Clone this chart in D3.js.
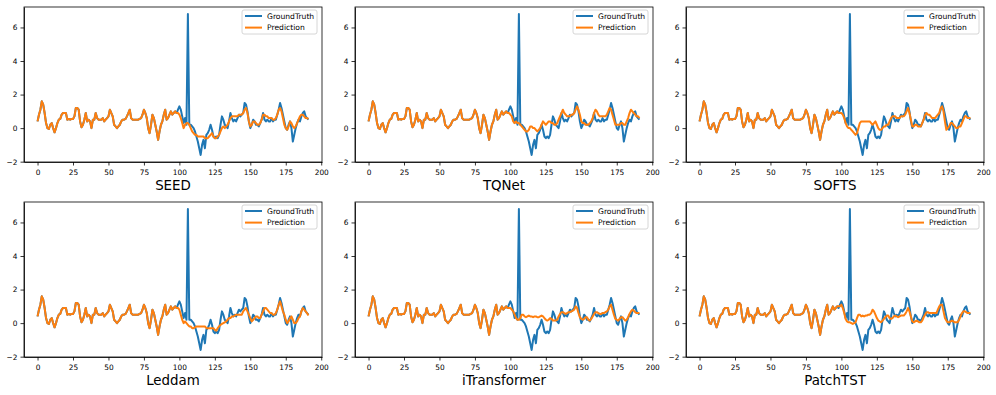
<!DOCTYPE html>
<html lang="en">
<head>
<meta charset="utf-8">
<title>Forecast comparison</title>
<script type="text/javascript" src="https://d3js.org/d3.v7.min.js"></script>
<style>
body { margin: 0; background: #fff; }
svg { font-family: "DejaVu Sans", sans-serif; }
.axis path, .axis line { stroke: #000; stroke-width: 0.8; }
.axis text { font-family: "DejaVu Sans", sans-serif; font-size: 7.4px; fill: #000; }
.title { font-size: 13.4px; text-anchor: middle; }
.legend text { font-size: 7.6px; }
</style>
</head>
<body>
<div id="chart"></div>
<script type="text/javascript">

// input window (prediction == ground truth here), steps 0..95
var inputWindow = [0.4, 0.8, 1.1, 1.6, 1.4, 0.9, 0.3, 0.0, -0.05, 0.2,
    0.3, 0.0, -0.25, 0.0, 0.3, 0.5, 0.55, 0.8, 0.9, 0.9,
    0.9, 0.5, 0.55, 0.5, 0.55, 0.55, 0.7, 1.2, 1.2, 1.1,
    0.4, 0.05, 0.2, 0.5, 0.9, 0.4, 0.5, 0.4, 0.0, 0.5,
    0.5, 0.9, 0.6, 0.5, 0.5, 0.5, 0.6, 0.4, 0.5, 0.6,
    0.7, 1.1, 0.9, 0.7, 0.2, 0.1, 0.0, 0.1, 0.2, 0.4,
    0.5, 0.5, 0.55, 0.7, 0.9, 1.1, 0.6, 0.5, 0.5, 0.5,
    0.5, 0.5, 0.55, 0.6, 0.8, 1.1, 0.9, 0.6, 0.0, -0.3,
    0.2, 0.8, 0.6, 0.2, -0.2, -0.7, -0.2, 0.2, 0.4, 0.8,
    1.1, 0.5, 0.6, 0.8, 1.0, 0.8];

// ground truth over the horizon, steps 96..191
var truthFuture = [0.9, 1.0, 0.9, 1.1, 1.3, 1.1, 0.7, 0.3, 0.6, 0.2,
    6.8, 0.2, 0.2, 0.1, 0.0, -0.2, -0.5, -0.8, -1.2, -1.6,
    -1.0, -0.7, -1.2, -0.4, -0.3, -0.1, 0.2, -0.1, -0.5, -0.6,
    -0.5, -0.6, -0.4, 0.2, 0.7, 0.5, 0.2, 0.1, 0.0, 0.4,
    0.9, 0.6, 0.4, 0.5, 0.4, 0.6, 0.8, 0.7, 0.8, 0.9,
    1.5, 1.4, 1.0, 0.4, 0.0, 0.2, 0.5, 0.4, 0.2, 0.2,
    0.1, 0.3, 0.5, 0.9, 0.5, 0.4, 0.5, 0.4, 0.4, 0.6,
    0.4, 0.5, 0.5, 0.8, 1.1, 1.5, 1.2, 0.8, 0.4, 0.0,
    -0.1, 0.2, 0.4, 0.0, -0.8, -0.4, 0.0, 0.3, 0.5, 0.4,
    0.7, 0.9, 1.0, 0.7, 0.6, 0.5];

var predSEED = [0.9, 1.0, 0.9, 0.9, 0.8, 0.6, 0.3, 0.0, 0.2, 0.3,
    0.3, 0.2, 0.0, -0.2, -0.3, -0.4, -0.4, -0.5, -0.5, -0.5,
    -0.5, -0.5, -0.6, -0.6, -0.6, -0.5, -0.4, -0.3, -0.5, -0.6,
    -0.6, -0.5, -0.4, -0.2, 0.0, 0.1, 0.0, 0.1, 0.2, 0.4,
    0.6, 0.7, 0.7, 0.7, 0.7, 0.7, 0.8, 0.8, 0.8, 0.9,
    1.1, 1.2, 0.9, 0.4, 0.1, 0.2, 0.4, 0.4, 0.3, 0.2,
    0.2, 0.3, 0.5, 0.8, 0.8, 0.7, 0.7, 0.6, 0.6, 0.6,
    0.5, 0.5, 0.6, 0.8, 1.1, 1.2, 1.0, 0.6, 0.2, 0.0,
    -0.1, 0.1, 0.4, 0.3, 0.1, 0.0, 0.1, 0.3, 0.5, 0.7,
    0.8, 0.8, 0.7, 0.6, 0.6, 0.55];

var predTQNet = [0.9, 1.0, 0.9, 0.9, 0.8, 0.7, 0.4, 0.3, 0.4, 0.3,
    0.3, 0.2, 0.1, 0.0, -0.1, -0.2, -0.2, -0.1, 0.1, 0.1,
    0.0, 0.0, -0.1, -0.2, -0.1, 0.0, 0.2, 0.4, 0.3, 0.2,
    0.3, 0.4, 0.4, 0.3, 0.3, 0.2, 0.2, 0.3, 0.5, 0.7,
    0.9, 1.1, 0.9, 0.8, 0.7, 0.7, 0.7, 0.8, 0.8, 0.9,
    1.1, 1.3, 1.1, 0.8, 0.4, 0.3, 0.3, 0.2, 0.2, 0.2,
    0.3, 0.4, 0.6, 0.9, 1.1, 1.0, 0.8, 0.7, 0.7, 0.7,
    0.7, 0.7, 0.8, 1.0, 1.2, 1.1, 0.8, 0.5, 0.2, 0.2,
    0.2, 0.2, 0.3, 0.3, 0.2, 0.2, 0.4, 0.6, 0.9, 1.1,
    1.0, 0.9, 0.8, 0.7, 0.7, 0.6];

var predSOFTS = [0.9, 1.0, 0.9, 0.9, 0.9, 0.8, 0.6, 0.3, 0.1, 0.0,
    0.0, -0.1, -0.2, -0.3, -0.4, -0.3, 0.0, 0.3, 0.4, 0.4,
    0.4, 0.4, 0.4, 0.4, 0.4, 0.3, 0.2, 0.3, 0.4, 0.2,
    0.0, -0.1, -0.1, 0.0, 0.1, 0.1, 0.2, 0.2, 0.4, 0.6,
    0.7, 0.7, 0.7, 0.6, 0.6, 0.6, 0.7, 0.7, 0.7, 0.8,
    1.0, 1.2, 0.9, 0.5, 0.1, 0.1, 0.2, 0.2, 0.1, 0.1,
    0.1, 0.3, 0.5, 0.8, 0.9, 0.8, 0.8, 0.7, 0.6, 0.6,
    0.6, 0.7, 0.8, 0.9, 1.2, 1.3, 1.0, 0.4, -0.1, 0.0,
    0.1, 0.3, 0.3, 0.2, 0.1, 0.0, 0.0, 0.1, 0.1, 0.3,
    0.5, 0.7, 0.7, 0.6, 0.6, 0.6];

var predLeddam = [0.9, 1.0, 0.9, 0.9, 0.8, 0.5, 0.2, 0.0, 0.1, 0.0,
    -0.1, -0.2, -0.2, -0.3, -0.3, -0.25, -0.2, -0.2, -0.2, -0.2,
    -0.2, -0.2, -0.2, -0.3, -0.3, -0.3, -0.3, -0.3, -0.3, -0.4,
    -0.45, -0.3, -0.2, -0.1, -0.05, 0.0, 0.05, 0.1, 0.2, 0.3,
    0.3, 0.4, 0.4, 0.45, 0.5, 0.5, 0.5, 0.5, 0.5, 0.7,
    0.8, 0.9, 0.7, 0.5, 0.3, 0.1, 0.2, 0.3, 0.4, 0.4,
    0.3, 0.3, 0.5, 0.7, 0.9, 0.9, 0.8, 0.7, 0.6, 0.6,
    0.5, 0.5, 0.6, 0.8, 1.1, 1.3, 1.0, 0.7, 0.5, 0.2,
    0.0, 0.1, 0.3, 0.4, 0.2, 0.0, 0.0, 0.1, 0.3, 0.4,
    0.7, 0.9, 0.8, 0.7, 0.6, 0.45];

var predITransformer = [0.9, 1.0, 0.9, 0.9, 0.9, 0.8, 0.7, 0.5, 0.3, 0.2,
    0.2, 0.3, 0.5, 0.5, 0.4, 0.35, 0.4, 0.45, 0.4, 0.4,
    0.35, 0.4, 0.4, 0.35, 0.35, 0.4, 0.45, 0.4, 0.3, 0.2,
    0.15, 0.2, 0.3, 0.25, 0.15, 0.15, 0.15, 0.2, 0.4, 0.55,
    0.65, 0.65, 0.6, 0.55, 0.6, 0.65, 0.65, 0.7, 0.75, 0.8,
    1.0, 0.9, 0.6, 0.35, 0.25, 0.2, 0.25, 0.35, 0.35, 0.2,
    0.15, 0.25, 0.4, 0.55, 0.65, 0.65, 0.6, 0.55, 0.55, 0.6,
    0.6, 0.65, 0.7, 0.8, 1.0, 1.1, 0.8, 0.5, 0.25, 0.2,
    0.15, 0.25, 0.35, 0.35, 0.25, 0.15, 0.2, 0.35, 0.55, 0.7,
    0.8, 0.75, 0.65, 0.6, 0.6, 0.6];

var predPatchTST = [0.9, 1.0, 1.0, 1.0, 1.1, 0.9, 0.6, 0.25, 0.1, 0.05,
    0.05, 0.0, -0.05, 0.0, 0.05, 0.3, 0.5, 0.5, 0.4, 0.45,
    0.4, 0.45, 0.45, 0.5, 0.5, 0.6, 0.8, 0.7, 0.5, 0.3,
    0.15, 0.1, 0.05, 0.15, 0.25, 0.35, 0.45, 0.45, 0.3, 0.25,
    0.3, 0.4, 0.45, 0.4, 0.35, 0.4, 0.45, 0.45, 0.45, 0.55,
    0.7, 0.9, 0.7, 0.4, 0.1, 0.05, 0.1, 0.15, 0.1, 0.05,
    0.05, 0.15, 0.35, 0.5, 0.65, 0.65, 0.6, 0.6, 0.6, 0.6,
    0.6, 0.6, 0.8, 1.0, 1.1, 1.1, 0.7, 0.3, 0.15, 0.05,
    0.05, 0.1, 0.15, 0.1, 0.05, 0.05, 0.05, 0.2, 0.4, 0.6,
    0.7, 0.7, 0.65, 0.6, 0.6, 0.6];

var models = ["SEED", "TQNet", "SOFTS", "Leddam", "iTransformer", "PatchTST"];
var forecasts = [predSEED, predTQNet, predSOFTS, predLeddam, predITransformer, predPatchTST];

var xTicks = [0, 25, 50, 75, 100, 125, 150, 175, 200];
var yTicks = [-2, 0, 2, 4, 6];
var seriesNames = ["GroundTruth", "Prediction"];

var colors = {truth: "#1f77b4", pred: "#ff7f0e"};

var width = 996, height = 395;
var plotW = 298, plotH = 155;
var colX = [24, 355, 686],
    rowY = [7, 202];

var svg = d3.select("#chart").append("svg")
    .attr("width", width)
    .attr("height", height);

var truth = inputWindow.concat(truthFuture);

var x = d3.scaleLinear().domain([-9.55, 200.55]).range([0, plotW]);
var y = d3.scaleLinear().domain([-2.02, 7.22]).range([plotH, 0]);

var line = d3.line()
    .x(function(d, i) { return x(i); })
    .y(function(d) { return y(d); });

function panel(g, name, forecast) {
    var pred = inputWindow.concat(forecast);

    g.append("path")
        .datum(truth)
        .attr("fill", "none")
        .attr("stroke", colors.truth)
        .attr("stroke-width", 2)
        .attr("stroke-linejoin", "round")
        .attr("d", line);

    g.append("path")
        .datum(pred)
        .attr("fill", "none")
        .attr("stroke", colors.pred)
        .attr("stroke-width", 2)
        .attr("stroke-linejoin", "round")
        .attr("d", line);

    g.append("g")
        .attr("class", "axis")
        .attr("transform", "translate(0," + plotH + ")")
        .call(d3.axisBottom(x).tickValues(xTicks).tickSize(3.5).tickPadding(4).tickSizeOuter(0));

    g.append("g")
        .attr("class", "axis")
        .call(d3.axisLeft(y).tickValues(yTicks).tickSize(3.5).tickPadding(3)
            .tickFormat(function(d) { return d < 0 ? "\u2212" + (-d) : d; }).tickSizeOuter(0));

    // frame
    g.append("rect")
        .attr("width", plotW)
        .attr("height", plotH)
        .attr("fill", "none")
        .attr("stroke", "#000")
        .attr("stroke-width", 0.8);

    // legend
    var lg = g.append("g")
        .attr("class", "legend")
        .attr("transform", "translate(" + (plotW - 80) + ",3)");
    lg.append("rect")
        .attr("width", 75)
        .attr("height", 24)
        .attr("rx", 2)
        .attr("fill", "#fff")
        .attr("fill-opacity", 0.8)
        .attr("stroke", "#ccc")
        .attr("stroke-width", 0.8);
    var items = lg.selectAll(".item")
        .data(seriesNames)
        .enter().append("g")
            .attr("class", "item")
            .attr("transform", function(d, i) { return "translate(3," + (6 + i * 11.6) + ")"; });
    items.append("line")
        .attr("x1", 0).attr("x2", 17)
        .attr("stroke", function(d, i) { return i == 0 ? colors.truth : colors.pred; })
        .attr("stroke-width", 2);
    items.append("text")
        .attr("x", 22)
        .attr("y", 2.7)
        .text(function(d) { return d; });

    g.append("text")
        .attr("class", "title")
        .attr("x", plotW / 2)
        .attr("y", plotH + 28)
        .text(name);
}

models.forEach(function(name, k) {
    var g = svg.append("g")
        .attr("transform", "translate(" + colX[k % 3] + "," + rowY[Math.floor(k / 3)] + ")");
    panel(g, name, forecasts[k]);
});

</script>
</body>
</html>
